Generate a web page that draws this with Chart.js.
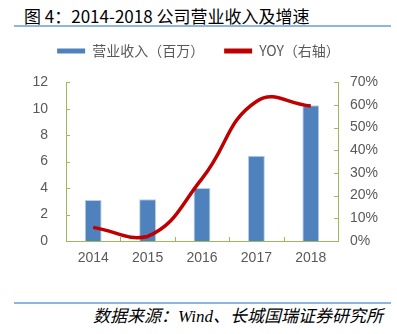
<!DOCTYPE html>
<html>
<head>
<meta charset="utf-8">
<script src="https://cdn.jsdelivr.net/npm/chart.js@4.4.1/dist/chart.umd.min.js"></script>
<style>
  body { margin: 0; background: #fff; }
  #wrap { position: relative; width: 397px; height: 334px; overflow: hidden; }
  .title { position: absolute; left: 24px; top: 3px; font: 17px "Noto Sans CJK SC", sans-serif; color: #000; white-space: nowrap; }
  .rule { position: absolute; left: 14px; width: 377px; height: 0; border-top: 2px solid #8eb4e3; }
  .src { position: absolute; right: 14px; top: 302px; font: italic 17px "Liberation Serif", "Noto Sans CJK SC", serif; color: #000; white-space: nowrap; }
  .src span { font-family: "Noto Sans CJK SC", sans-serif; }
  #box { position: absolute; left: 0; top: 18px; width: 397px; height: 272px; }
</style>
</head>
<body>
<div id="wrap">
  <div class="title">图 4：2014-2018 公司营业收入及增速</div>
  <div class="rule" style="top:25px"></div>
  <div id="box"><canvas id="c"></canvas></div>
  <div class="rule" style="top:302px"></div>
  <div class="src"><span>数据来源：</span>Wind<span>、长城国瑞证券研究所</span></div>
</div>
<script>
const years = ['2014', '2015', '2016', '2017', '2018'];
const revenue = [3.1, 3.15, 4.0, 6.45, 10.25];   // 营业收入（百万）
const yoy = [6, 2, 27.5, 61.5, 59.5];            // YOY，%

const axisGreen = '#9bbb59';
const textGray = '#595959';

// short inward tick marks on all three axes
const innerTicks = {
  id: 'innerTicks',
  afterDatasetsDraw(chart) {
    const { ctx, chartArea: a, scales } = chart;
    const len = 4;
    ctx.save();
    ctx.strokeStyle = axisGreen;
    ctx.lineWidth = 1;
    ctx.beginPath();
    scales.y.ticks.forEach(t => {
      const py = Math.round(scales.y.getPixelForValue(t.value)) + 0.5;
      ctx.moveTo(a.left, py); ctx.lineTo(a.left + len, py);
    });
    scales.y1.ticks.forEach(t => {
      const py = Math.round(scales.y1.getPixelForValue(t.value)) + 0.5;
      ctx.moveTo(a.right, py); ctx.lineTo(a.right - len, py);
    });
    const step = (a.right - a.left) / years.length;
    for (let i = 1; i < years.length; i++) {
      const px = Math.round(a.left + step * i) + 0.5;
      ctx.moveTo(px, a.bottom); ctx.lineTo(px, a.bottom - len);
    }
    ctx.stroke();
    ctx.restore();
  }
};

new Chart(document.getElementById('c'), {
  data: {
    labels: years,
    datasets: [
      {
        type: 'line',
        label: 'YOY（右轴）',
        data: yoy,
        yAxisID: 'y1',
        borderColor: '#c00000',
        backgroundColor: '#c00000',
        borderWidth: 3.5,
        tension: 0.45,
        pointRadius: 0,
        order: 0
      },
      {
        type: 'bar',
        label: '营业收入（百万）',
        data: revenue,
        yAxisID: 'y',
        backgroundColor: '#4f81bd',
        borderColor: '#b9cde5',
        borderWidth: 1,
        barPercentage: 0.62,
        categoryPercentage: 0.5,
        order: 1
      }
    ]
  },
  options: {
    responsive: true,
    maintainAspectRatio: false,
    animation: false,
    layout: { padding: { top: 6, left: 0, right: 0, bottom: 0 } },
    plugins: {
      tooltip: { enabled: false },
      // blank title used as a gap between legend and plot
      title: {
        display: true,
        text: ' ',
        weight: 500,
        font: { size: 1 },
        padding: { top: 0, bottom: 13 }
      },
      legend: {
        reverse: true,
        labels: {
          color: textGray,
          font: { family: '"Noto Sans CJK SC", sans-serif', size: 14 },
          boxWidth: 28,
          boxHeight: 5,
          padding: 20,
          generateLabels(chart) {
            return chart.data.datasets.map((ds, i) => ({
              text: ds.label,
              fillStyle: ds.type === 'bar' ? '#4f81bd' : '#c00000',
              strokeStyle: 'transparent',
              lineWidth: 0,
              fontColor: textGray,
              datasetIndex: i
            }));
          }
        }
      }
    },
    scales: {
      x: {
        offset: true,
        border: { color: axisGreen, width: 1 },
        grid: { display: false, drawTicks: false },
        ticks: { color: textGray, font: { family: '"Liberation Sans", Arial', size: 14 }, padding: 9 },
        afterFit(s) { s.height = 49; }
      },
      y: {
        position: 'left',
        min: 0, max: 12,
        border: { color: axisGreen, width: 1 },
        grid: { display: false, drawTicks: false },
        ticks: { stepSize: 2, color: textGray, font: { family: '"Liberation Sans", Arial', size: 14 }, padding: 18 },
        afterFit(s) { s.width = 66; }
      },
      y1: {
        position: 'right',
        min: 0, max: 70,
        border: { color: axisGreen, width: 1 },
        grid: { display: false, drawTicks: false },
        ticks: { stepSize: 10, color: textGray, font: { family: '"Liberation Sans", Arial', size: 14 }, padding: 12,
                 callback: v => v + '%' },
        afterFit(s) { s.width = 59; }
      }
    }
  },
  plugins: [innerTicks]
});
</script>
</body>
</html>
